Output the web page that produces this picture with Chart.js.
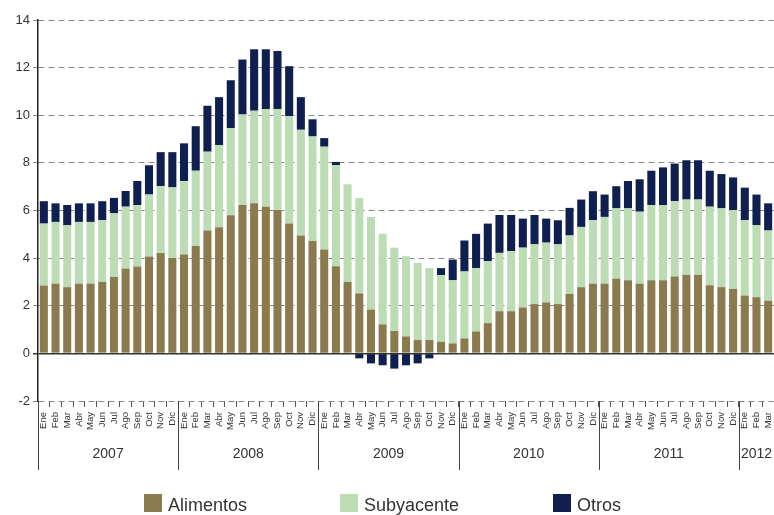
<!DOCTYPE html>
<html>
<head>
<meta charset="utf-8">
<script src="https://cdn.jsdelivr.net/npm/chart.js@4.4.1/dist/chart.umd.min.js"></script>
<style>
  html, body { margin: 0; padding: 0; background: #fff; }
  #wrap { width: 774px; height: 515px; }
</style>
</head>
<body>
<div id="wrap"><canvas id="chart" width="774" height="515"></canvas></div>
<script>
// categories
const months = ['Ene', 'Feb', 'Mar', 'Abr', 'May', 'Jun', 'Jul', 'Ago', 'Sep', 'Oct', 'Nov', 'Dic'];
const years = ['2007', '2008', '2009', '2010', '2011', '2012'];
const monthsPerYear = [12, 12, 12, 12, 12, 3];

// y axis ticks
const yMin = -2;
const yMax = 14;
const yStep = 2;

// contributions (pp), Ene 2007 - Mar 2012
const alimentos = [
  2.85, 2.93, 2.78, 2.93, 2.93, 3.00, 3.21, 3.56, 3.65, 4.07, 4.22, 4.01,
  4.15, 4.51, 5.16, 5.30, 5.80, 6.23, 6.30, 6.16, 6.02, 5.45, 4.95, 4.72,
  4.36, 3.66, 3.00, 2.52, 1.84, 1.22, 0.94, 0.71, 0.56, 0.56, 0.49, 0.42,
  0.63, 0.92, 1.27, 1.77, 1.77, 1.93, 2.07, 2.14, 2.07, 2.50, 2.78, 2.93,
  2.93, 3.14, 3.07, 2.93, 3.07, 3.07, 3.23, 3.30, 3.30, 2.86, 2.78, 2.71,
  2.43, 2.36, 2.21
];
const subyacente = [
  2.60, 2.59, 2.60, 2.59, 2.59, 2.59, 2.67, 2.60, 2.58, 2.60, 2.80, 2.96,
  3.09, 3.16, 3.31, 3.45, 3.66, 3.80, 3.89, 4.10, 4.24, 4.51, 4.44, 4.39,
  4.32, 4.24, 4.10, 4.01, 3.89, 3.80, 3.50, 3.37, 3.24, 3.02, 2.80, 2.65,
  2.81, 2.66, 2.60, 2.45, 2.52, 2.51, 2.51, 2.51, 2.51, 2.45, 2.53, 2.66,
  2.80, 2.95, 3.02, 3.02, 3.16, 3.16, 3.16, 3.16, 3.16, 3.30, 3.31, 3.31,
  3.16, 3.02, 2.95
];
const otros = [
  0.94, 0.78, 0.85, 0.78, 0.78, 0.80, 0.65, 0.66, 1.01, 1.23, 1.43, 1.48,
  1.58, 1.87, 1.93, 2.01, 2.01, 2.31, 2.58, 2.51, 2.44, 2.10, 1.37, 0.72,
  0.36, 0.14, 0.00, -0.21, -0.42, -0.50, -0.64, -0.50, -0.42, -0.21, 0.29, 0.87,
  1.30, 1.44, 1.58, 1.59, 1.52, 1.22, 1.23, 1.01, 1.01, 1.16, 1.15, 1.22,
  0.94, 0.93, 1.15, 1.36, 1.44, 1.58, 1.58, 1.65, 1.65, 1.51, 1.44, 1.37,
  1.37, 1.29, 1.14
];

const colors = {
  alimentos: '#8b7a4e',
  subyacente: '#bcddb4',
  otros: '#0f1f50'
};

const labels = years.flatMap((y, i) => months.slice(0, monthsPerYear[i]));
const font = "'Liberation Sans', Arial, sans-serif";

// year band under the month labels
const yearAxis = {
  id: 'yearAxis',
  afterDraw(chart) {
    const ctx = chart.ctx;
    const x = chart.scales.x;
    const area = chart.chartArea;
    const step = x.getPixelForValue(1) - x.getPixelForValue(0);
    ctx.save();
    ctx.strokeStyle = '#444';
    ctx.lineWidth = 1;
    ctx.fillStyle = '#333';
    ctx.font = '14px ' + font;
    ctx.textAlign = 'center';
    ctx.textBaseline = 'middle';
    let start = 0;
    years.forEach((yr, k) => {
      const n = monthsPerYear[k];
      const left = x.getPixelForValue(start) - step / 2;
      const right = x.getPixelForValue(start + n - 1) + step / 2;
      const lx = Math.round(left) + 0.5;
      ctx.beginPath();
      ctx.moveTo(lx, area.bottom);
      ctx.lineTo(lx, area.bottom + 69);
      ctx.stroke();
      ctx.fillText(yr, (left + right) / 2, area.bottom + 53);
      start += n;
    });
    ctx.restore();
  }
};

// legend at the bottom, spaced like the original
const bottomLegend = {
  id: 'bottomLegend',
  afterDraw(chart) {
    const ctx = chart.ctx;
    const xs = [144, 340, 553];
    ctx.save();
    ctx.font = '18px ' + font;
    ctx.textBaseline = 'alphabetic';
    chart.data.datasets.forEach((ds, i) => {
      ctx.fillStyle = ds.backgroundColor;
      ctx.fillRect(xs[i], 494, 18, 18);
      ctx.fillStyle = '#333';
      ctx.fillText(ds.label, xs[i] + 24, 511);
    });
    ctx.restore();
  }
};

new Chart(document.getElementById('chart'), {
  type: 'bar',
  data: {
    labels: labels,
    datasets: [
      { label: 'Alimentos', data: alimentos, backgroundColor: colors.alimentos },
      { label: 'Subyacente', data: subyacente, backgroundColor: colors.subyacente },
      { label: 'Otros', data: otros, backgroundColor: colors.otros }
    ]
  },
  options: {
    responsive: false,
    animation: false,
    layout: { padding: { top: 20, right: 0, bottom: 0, left: 0 } },
    datasets: {
      bar: { categoryPercentage: 1, barPercentage: 0.69 }
    },
    plugins: {
      legend: { display: false },
      tooltip: { enabled: false }
    },
    scales: {
      x: {
        stacked: true,
        afterFit(scale) {
          scale.height = 114;
          scale.paddingLeft = 0;
          scale.paddingRight = 0;
        },
        border: { display: false },
        grid: {
          offset: true,
          drawOnChartArea: false,
          drawTicks: true,
          tickLength: 6,
          color: '#555'
        },
        ticks: {
          autoSkip: false,
          maxRotation: 90,
          minRotation: 90,
          padding: 5,
          color: '#333',
          font: { family: font, size: 9.5 }
        }
      },
      y: {
        stacked: true,
        min: yMin,
        max: yMax,
        afterFit(scale) { scale.width = 38; },
        border: {
          display: true,
          color: '#222',
          width: 1.5,
          dash: (c) => (c.tick && c.tick.value === 0 ? [] : [6, 4])
        },
        grid: {
          color: (c) => (c.tick && c.tick.value === 0 ? '#333' : '#888'),
          lineWidth: (c) => (c.tick && c.tick.value === 0 ? 1.5 : 1),
          tickLength: 5
        },
        ticks: {
          stepSize: yStep,
          padding: 3,
          color: '#333',
          font: { family: font, size: 13 }
        }
      }
    }
  },
  plugins: [yearAxis, bottomLegend]
});
</script>
</body>
</html>
